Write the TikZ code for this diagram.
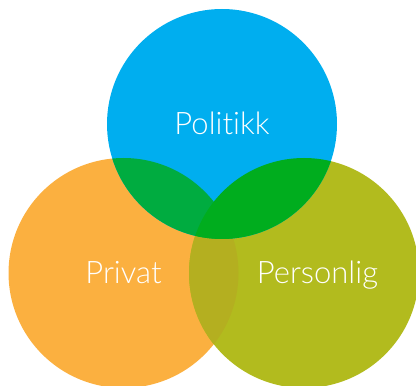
\documentclass[tikz,border=0pt]{standalone}
\usepackage{fontspec}
\newfontfamily\lblfont[Ligatures=NoCommon]{Lato Light}
\definecolor{cblue}{RGB}{0,174,239}
\definecolor{corange}{RGB}{251,176,64}
\definecolor{colive}{RGB}{178,187,30}
\definecolor{cbo}{RGB}{0,172,64}
\definecolor{cbg}{RGB}{0,173,30}
\definecolor{cog}{RGB}{180,175,32}
\tikzset{lbl/.style={text=white,font=\lblfont\fontsize{31}{37}\selectfont,anchor=base,inner sep=0pt}}
\begin{document}
\begin{tikzpicture}[x=1pt,y=1pt]
\useasboundingbox (0,0) rectangle (416,386);
\def\bc{(222,262) circle (115)}
\def\oc{(123.5,113) circle (115)}
\def\gc{(304,113) circle (115)}
\fill[corange] \oc;
\fill[colive] \gc;
\fill[cblue] \bc;
\begin{scope}
  \clip \oc;
  \fill[cog] \gc;
\end{scope}
\begin{scope}
  \clip \bc;
  \fill[cbo] \oc;
  \fill[cbg] \gc;
\end{scope}
\node[lbl] (politikk) at (222,251) {Politikk};
\node[lbl] (privat) at (123.5,102) {Privat};
\node[lbl] (personlig) at (317.5,102) {Personlig};
\end{tikzpicture}
\end{document}
